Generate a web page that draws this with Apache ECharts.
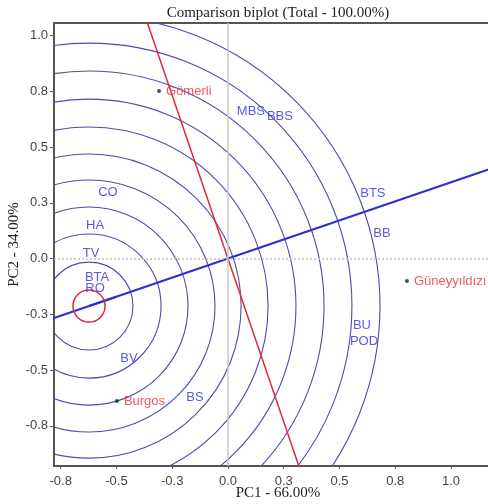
<!DOCTYPE html>
<html><head><meta charset="utf-8">
<script src="https://cdn.jsdelivr.net/npm/echarts@6/dist/echarts.min.js"></script>
<style>html,body{margin:0;padding:0;background:#fff}#c{width:488px;height:504px}</style>
</head><body><div id="c"></div>
<script>
// ---- data ----
const traitNames = ['MBS','BBS','BTS','BB','BU','POD','CO','HA','TV','BTA','RO','BV','BS'];
const traitPC1 = [0.103,0.233,0.650,0.691,0.601,0.610,-0.538,-0.596,-0.614,-0.587,-0.596,-0.444,-0.148];
const traitPC2 = [0.661,0.639,0.294,0.114,-0.298,-0.370,0.298,0.150,0.025,-0.083,-0.132,-0.446,-0.621];
const genoNames = ['Gömerli','Güneyyıldızı','Burgos'];
const genoPC1 = [-0.309,0.803,-0.498];
const genoPC2 = [0.751,-0.101,-0.639];
const idealPoint = [-0.623,-0.213];
const ringRadii = [0.197,0.323,0.444,0.565,0.682,0.803,0.928,1.054,1.179,1.305];
const idealMarkRadius = [0.072];
const atcLine = [[-1.2,-0.410],[1.6,0.547]];
const atcPerpLine = [[-0.43,1.258],[0.43,-1.258]];
const arrowStart = [-0.50,-0.171];
const xTicks = [-0.75,-0.5,-0.25,0,0.25,0.5,0.75,1.0];
const xTickLabels = ['-0.8','-0.5','-0.3','0.0','0.3','0.5','0.8','1.0'];
const yTicks = [-0.75,-0.5,-0.25,0,0.25,0.5,0.75,1.0];
const yTickLabels = ['-0.8','-0.5','-0.3','0.0','0.3','0.5','0.8','1.0'];
const titleText = 'Comparison biplot (Total - 100.00%)';
const xName = 'PC1 - 66.00%';
const yName = 'PC2 - 34.00%';

const chart = echarts.init(document.getElementById('c'), null, {renderer:'canvas'});
const ringRender = (color, width) => (params, api) => {
  const c = api.coord([api.value(0), api.value(1)]);
  const r = api.size([api.value(2), 0])[0];
  return {type:'circle', shape:{cx:c[0], cy:c[1], r:r}, style:{fill:'none', stroke:color, lineWidth:width}};
};
const option = {
  animation:false,
  backgroundColor:'#fff',
  graphic:[{type:'text', x:278, y:13, style:{text:titleText, font:'15px "Liberation Serif"', fill:'#222', textAlign:'center', textVerticalAlign:'middle'}}],
  grid:{left:54, top:23, width:448, height:443, outerBoundsMode:'none', containLabel:false,
    show:true, borderColor:'#555', borderWidth:2, backgroundColor:'transparent'},
  xAxis:{type:'value', min:-0.78, max:1.229, splitLine:{show:false},
    name:xName, nameLocation:'middle', nameGap:20, nameMoveOverlap:false,
    nameTextStyle:{fontFamily:'Liberation Serif', fontSize:15, color:'#222'},
    axisLine:{show:true, onZero:false, lineStyle:{color:'#555', width:2}},
    axisTick:{show:true, length:3, customValues:xTicks, lineStyle:{color:'#555'}},
    axisLabel:{customValues:xTicks, margin:9, fontFamily:'Liberation Sans', fontSize:13, color:'#444',
      formatter:v => xTickLabels[xTicks.indexOf(v)]}},
  yAxis:{type:'value', min:-0.93, max:1.056, splitLine:{show:false},
    name:yName, nameLocation:'middle', nameGap:32, nameMoveOverlap:false,
    nameTextStyle:{fontFamily:'Liberation Serif', fontSize:15, color:'#222'},
    axisLine:{show:true, onZero:false, lineStyle:{color:'#555', width:2}},
    axisTick:{show:true, length:4, customValues:yTicks, lineStyle:{color:'#555'}},
    axisLabel:{customValues:yTicks, margin:6, fontFamily:'Liberation Sans', fontSize:13, color:'#444',
      formatter:v => yTickLabels[yTicks.indexOf(v)]}},
  series:[
    {type:'line', data:[], silent:true, z:1,
      markLine:{silent:true, symbol:'none', label:{show:false}, animation:false,
        data:[
          {xAxis:0, lineStyle:{color:'#c8c8c8', width:1.5, type:'solid'}},
          {yAxis:0, lineStyle:{color:'#c0c0c0', width:1.5, type:[2,2]}}
        ]}},
    {type:'custom', coordinateSystem:'cartesian2d', clip:true, silent:true, z:2,
      data:ringRadii.map(r => [idealPoint[0], idealPoint[1], r]), encode:{x:0, y:1},
      renderItem:ringRender('#4c4cae', 1.1)},
    {type:'line', data:atcPerpLine, symbol:'none', silent:true, z:3,
      lineStyle:{color:'#e02a36', width:1.5}},
    {type:'line', data:atcLine, symbol:'none', silent:true, z:4,
      lineStyle:{color:'#2e30d0', width:2},
      markLine:{silent:true, symbol:['none','arrow'], symbolSize:[0,11], label:{show:false},
        lineStyle:{color:'#2e30d0', width:2, type:'solid'},
        data:[[{coord:arrowStart},{coord:idealPoint}]]}},
    {type:'custom', coordinateSystem:'cartesian2d', clip:true, silent:true, z:5,
      data:idealMarkRadius.map(r => [idealPoint[0], idealPoint[1], r]), encode:{x:0, y:1},
      renderItem:ringRender('#e02a36', 1.5)},
    {type:'scatter', symbolSize:0, silent:true, z:6,
      data:traitNames.map((n,i) => ({name:n, value:[traitPC1[i], traitPC2[i]]})),
      label:{show:true, position:'inside', formatter:'{b}', color:'#3030dc', fontFamily:'Liberation Sans', fontSize:13}},
    {type:'scatter', symbol:'circle', symbolSize:4, silent:true, z:7, itemStyle:{color:'#222'},
      data:genoNames.map((n,i) => ({name:n, value:[genoPC1[i], genoPC2[i]]})),
      label:{show:true, position:'right', distance:5, formatter:'{b}', color:'#e8303a', fontFamily:'Liberation Sans', fontSize:13}}
  ]
};
chart.setOption(option);
</script></body></html>
